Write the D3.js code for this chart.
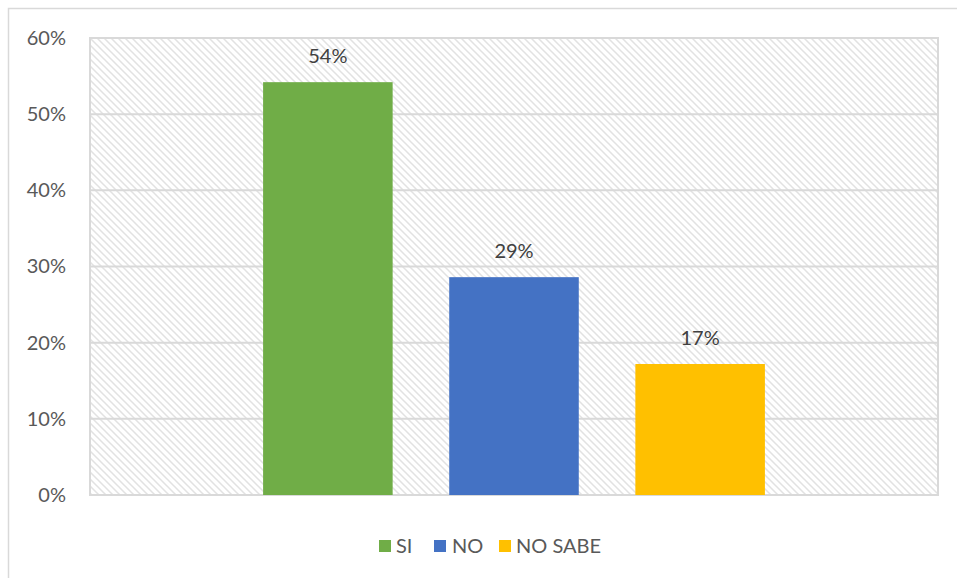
<!DOCTYPE html>
<html>
<head>
<meta charset="utf-8">
<script src="https://cdn.jsdelivr.net/npm/d3@7"></script>
<style>
  html, body { margin: 0; padding: 0; background: #fff; }
  svg { display: block; font-family: Lato, 'Liberation Sans', sans-serif; }
</style>
</head>
<body>
<div id="chart"></div>
<script>
const series = ['SI', 'NO', 'NO SABE']
const values = [0.542, 0.286, 0.172]
const labels = ['54%', '29%', '17%']
const colors = ['#70ad47', '#4472c4', '#ffc000']
const yTicks = [0, 0.1, 0.2, 0.3, 0.4, 0.5, 0.6]

const W = 957, H = 578
const margin = { top: 38, right: 19, bottom: 83, left: 90 }
const iw = W - margin.left - margin.right
const ih = H - margin.top - margin.bottom

const svg = d3.select('#chart').append('svg')
  .attr('width', W)
  .attr('height', H)

/* hatch pattern for the plot area */
const defs = svg.append('defs')
const pat = defs.append('pattern')
  .attr('id', 'hatch')
  .attr('patternUnits', 'userSpaceOnUse')
  .attr('width', 7)
  .attr('height', 7)
pat.append('rect').attr('width', 7).attr('height', 7).attr('fill', '#fff')
pat.append('path')
  .attr('d', 'M-1,-1 L8,8 M-1,6 L1,8 M6,-1 L8,1')
  .attr('stroke', '#e2e2e2')
  .attr('stroke-width', 1.5)

/* outer chart border */
svg.append('rect')
  .attr('x', 8.5).attr('y', 8.5)
  .attr('width', W + 10).attr('height', H + 10)
  .attr('fill', 'none')
  .attr('stroke', '#d9d9d9')
  .attr('stroke-width', 1.5)

const g = svg.append('g').attr('transform', `translate(${margin.left},${margin.top})`)

const x = d3.scaleBand()
  .domain(series)
  .range([0, iw])
  .paddingInner(0.304)
  .paddingOuter(0.93)

const y = d3.scaleLinear()
  .domain([0, 0.6])
  .range([ih, 0])

g.append('rect')
  .attr('width', iw).attr('height', ih)
  .attr('fill', 'url(#hatch)')

/* gridlines */
g.append('g')
  .selectAll('line')
  .data(yTicks)
  .join('line')
  .attr('x1', 0).attr('x2', iw)
  .attr('y1', d => y(d)).attr('y2', d => y(d))
  .attr('stroke', '#d9d9d9')
  .attr('stroke-width', 2)

/* plot border */
g.append('rect')
  .attr('width', iw).attr('height', ih)
  .attr('fill', 'none')
  .attr('stroke', '#d9d9d9')
  .attr('stroke-width', 2)

/* y axis labels */
const yAxis = d3.axisLeft(y)
  .tickValues(yTicks)
  .tickFormat(d3.format('.0%'))
  .tickSize(0)
  .tickPadding(24)
const ya = g.append('g').call(yAxis)
ya.select('.domain').remove()
ya.selectAll('text')
  .attr('fill', '#595959')
  .attr('font-size', 20)
  .attr('font-family', "Lato, 'Liberation Sans', sans-serif")

/* bars */
g.append('g')
  .selectAll('rect')
  .data(series)
  .join('rect')
  .attr('x', d => x(d))
  .attr('width', x.bandwidth())
  .attr('y', (d, i) => y(values[i]))
  .attr('height', (d, i) => ih - y(values[i]))
  .attr('fill', (d, i) => colors[i])

/* data labels */
g.append('g')
  .selectAll('text')
  .data(series)
  .join('text')
  .attr('x', d => x(d) + x.bandwidth() / 2)
  .attr('y', (d, i) => y(values[i]) - 19)
  .attr('text-anchor', 'middle')
  .attr('fill', '#404040')
  .attr('font-size', 20)
  .text((d, i) => labels[i])

/* legend */
const legendItems = [
  { x: 379, tx: 396 },
  { x: 434, tx: 452 },
  { x: 499, tx: 516 }
]
const legend = svg.append('g')
series.forEach((s, i) => {
  legend.append('rect')
    .attr('x', legendItems[i].x).attr('y', 540)
    .attr('width', 12).attr('height', 12)
    .attr('fill', colors[i])
  legend.append('text')
    .attr('x', legendItems[i].tx).attr('y', 553)
    .attr('fill', '#595959')
    .attr('font-size', 20)
    .text(s)
})
</script>
</body>
</html>
